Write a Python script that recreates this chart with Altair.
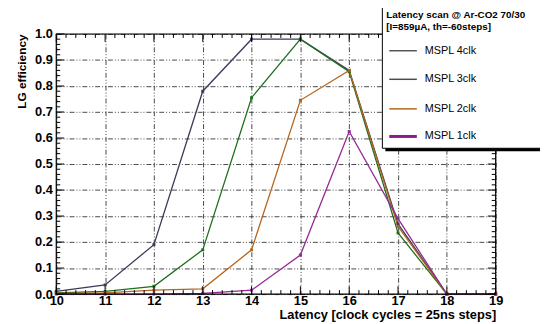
import altair as alt
import pandas as pd
import numpy as np

latency = [10, 11, 12, 13, 14, 15, 16, 17, 18, 19]
eff_4clk = [0.01, 0.035, 0.19, 0.78, 0.98, 0.98, 0.86, 0.27, 0.0, 0.0]
eff_3clk = [0.005, 0.01, 0.03, 0.17, 0.755, 0.98, 0.855, 0.235, 0.0, 0.0]
eff_2clk = [0.003, 0.005, 0.015, 0.02, 0.17, 0.745, 0.86, 0.26, 0.0, 0.0]
eff_1clk = [0.0, 0.0, 0.0, 0.003, 0.015, 0.15, 0.625, 0.29, 0.0, 0.0]

series_names = ["MSPL 4clk", "MSPL 3clk", "MSPL 2clk", "MSPL 1clk"]
line_colors = ["#3a3a58", "#1e6e1e", "#b5651d", "#962a96"]
legend_colors = ["#555555", "#4a4a4a", "#b5651d", "#8b1a8b"]
legend_widths = [1.5, 1.5, 1.5, 3]
legend_rows_y = [17, 46, 76, 104]
legend_title = ["Latency scan @ Ar-CO2 70/30", "[I=859µA, th=-60steps]"]
legend_title_y = [-19, -7]
y_labels = [round(0.1 * i, 1) for i in range(11)]

W, H = 446, 264

rows = []
for name, vals in zip(series_names, [eff_4clk, eff_3clk, eff_2clk, eff_1clk]):
    for x, v in zip(latency, vals):
        rows.append({"lat": x, "eff": v, "series": name})
df = pd.DataFrame(rows)

xs = alt.Scale(domain=[10, 19], nice=False, zero=False)
ys = alt.Scale(domain=[0, 1], nice=False)
cs = alt.Scale(domain=series_names, range=line_colors)

FONT = "Liberation Sans"
DASH = [5, 2, 1, 2, 1, 2]
XT = "Latency [clock cycles = 25ns steps]"
YT = "LG efficiency"

AX_X = alt.Axis(values=latency, format="d", tickSize=0, domain=False,
                grid=True, gridColor="#333", gridDash=DASH, gridWidth=0.9,
                labelFont=FONT, labelFontWeight="bold", labelFontSize=13, labelColor="black",
                labelPadding=1, labelFlush=False, labelOverlap=False,
                titleFont=FONT, titleFontWeight="bold", titleFontSize=13, titleAnchor="end",
                titlePadding=1, titleColor="black")
AX_Y = alt.Axis(values=y_labels, format=".1f", tickSize=0,
                domain=False, grid=True, gridColor="#333", gridDash=DASH,
                gridWidth=0.9, labelFont=FONT, labelFontWeight="bold", labelFontSize=13,
                labelColor="black", labelPadding=4, labelFlush=False, labelOverlap=False,
                titleFont=FONT, titleFontWeight="bold",
                titleFontSize=12, titleAnchor="end", titlePadding=6, titleColor="black")


def X(field):
    return alt.X(field, scale=xs, axis=AX_X, title=XT)


def Y(field):
    return alt.Y(field, scale=ys, axis=AX_Y, title=YT)


base = alt.Chart(df)

lines = base.mark_line(strokeWidth=1.3).encode(
    x=X("lat:Q"), y=Y("eff:Q"),
    color=alt.Color("series:N", scale=cs, legend=None),
    order=alt.Order("series:N"),
)
points = base.mark_square(size=9, opacity=1).encode(
    x=X("lat:Q"), y=Y("eff:Q"),
    color=alt.Color("series:N", scale=cs, legend=None),
)

# ticks
xmaj = pd.DataFrame({"t": latency})
xmin = pd.DataFrame({"t": [v for v in np.arange(10, 19.001, 0.2) if abs(v - round(v)) > 1e-6]})
ymaj = pd.DataFrame({"t": y_labels})
ymin = pd.DataFrame({"t": [v for v in np.arange(0, 1.0001, 0.02) if abs(v * 10 - round(v * 10)) > 1e-6]})


def xticks(d, L):
    b = alt.Chart(d).mark_rule(color="black", strokeWidth=1)
    bottom = b.encode(x=X("t:Q"), y=alt.value(H), y2=alt.value(H - L))
    top = b.encode(x=X("t:Q"), y=alt.value(0), y2=alt.value(L))
    return [bottom, top]


def yticks(d, L):
    b = alt.Chart(d).mark_rule(color="black", strokeWidth=1)
    left = b.encode(y=Y("t:Q"), x=alt.value(0), x2=alt.value(L))
    right = b.encode(y=Y("t:Q"), x=alt.value(W), x2=alt.value(W - L))
    return [left, right]


one = pd.DataFrame({"a": [0]})
frame = alt.Chart(one).mark_rect(fill=None, stroke="black", strokeWidth=1.2).encode(
    x=alt.value(0), x2=alt.value(W), y=alt.value(0), y2=alt.value(H))

# legend box
shadow = alt.Chart(one).mark_rect(fill="black").encode(
    x=alt.value(334), x2=alt.value(510), y=alt.value(-26), y2=alt.value(119))
box = alt.Chart(one).mark_rect(fill="white", stroke="black", strokeWidth=1).encode(
    x=alt.value(331), x2=alt.value(510), y=alt.value(-29), y2=alt.value(116))

legend_layers = [shadow, box]
for txt, yy in zip(legend_title, legend_title_y):
    legend_layers.append(
        alt.Chart(pd.DataFrame({"txt": [txt]})).mark_text(
            align="left", baseline="middle", font=FONT, fontWeight="bold", fontSize=10, color="black"
        ).encode(text="txt:N", x=alt.value(335), y=alt.value(yy)))
for name, col, w, yy in zip(series_names, legend_colors, legend_widths, legend_rows_y):
    d = pd.DataFrame({"name": [name]})
    legend_layers.append(
        alt.Chart(d).mark_rule(color=col, strokeWidth=w).encode(
            x=alt.value(338), x2=alt.value(366), y=alt.value(yy)))
    legend_layers.append(
        alt.Chart(d).mark_text(align="left", baseline="middle", font=FONT, fontSize=11,
                               color="black").encode(
            x=alt.value(374), y=alt.value(yy), text="name:N"))

layers = [lines, points] + xticks(xmaj, 8) + xticks(xmin, 4) + yticks(ymaj, 8) + yticks(ymin, 4) \
    + [frame] + legend_layers

chart = alt.layer(*layers).properties(
    width=W, height=H, autosize="none",
    padding={"left": 49, "top": 24, "right": 45, "bottom": 28},
).configure_view(stroke=None).configure(background="white")

chart.save("out.html", embed_options={"renderer": "svg", "actions": False})
